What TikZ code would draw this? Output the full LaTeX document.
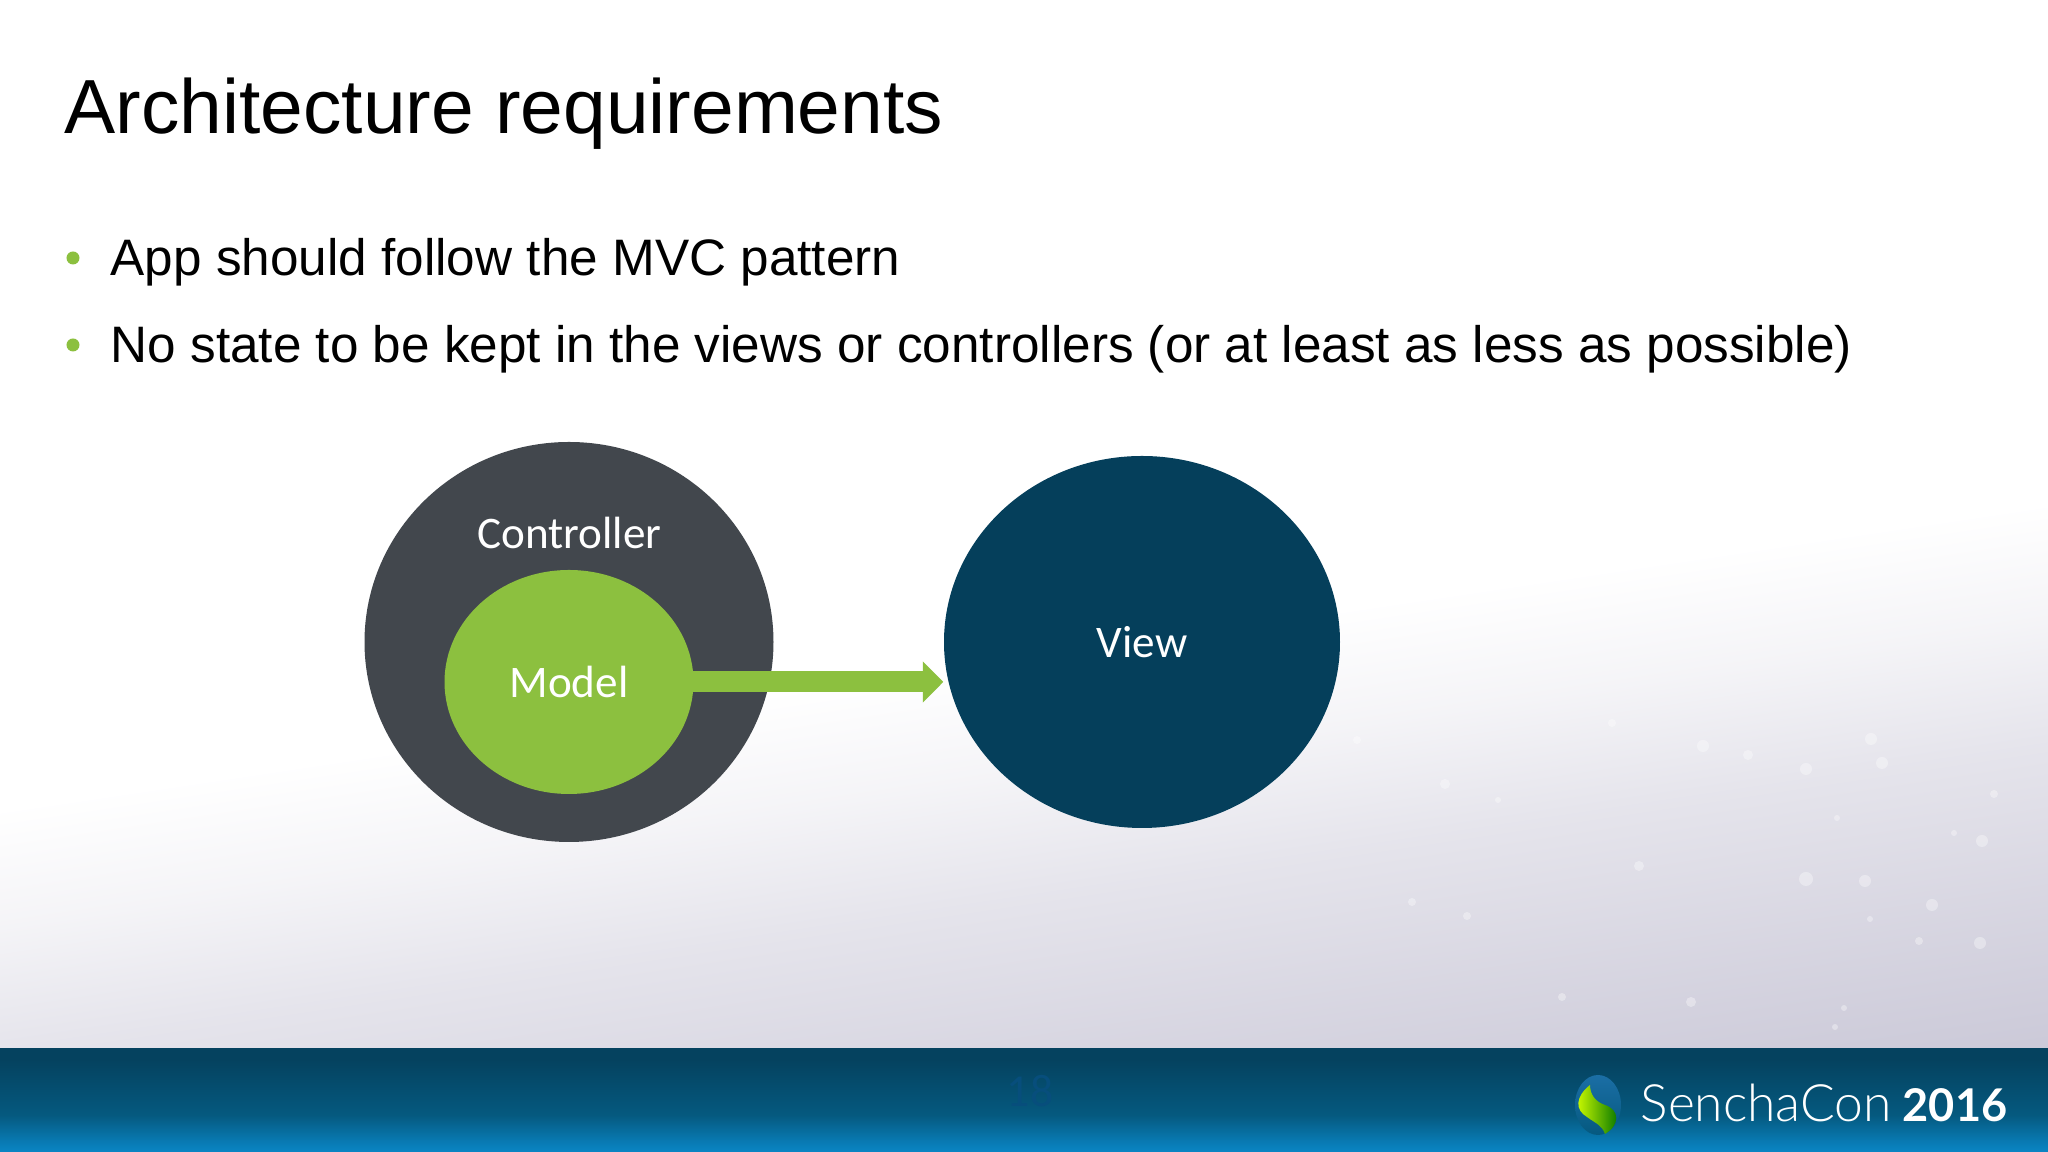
\documentclass[tikz,border=0pt]{standalone}
\usepackage{fontspec}
\setmainfont{Liberation Sans}
\newfontfamily\calibrifont{Carlito}
\newfontfamily\senchafont{Lato Light}
\newfontfamily\senchabold{Lato}[BoldFont={Lato Bold}]
\usetikzlibrary{arrows.meta,shapes.geometric}
\definecolor{slatecirc}{HTML}{42474D}
\definecolor{greencirc}{HTML}{8CC03F}
\definecolor{navycirc}{HTML}{053F5B}
\definecolor{bandtop}{HTML}{05425F}
\definecolor{bandmid}{HTML}{05597F}
\definecolor{bandlow}{HTML}{0A85C4}
\definecolor{haze}{HTML}{CBC9D8}
\definecolor{pagecol}{HTML}{074E7C}
\definecolor{logoblue}{HTML}{1B6EA5}
\pgfdeclareverticalshading{bandshade}{100bp}{color(0bp)=(bandlow); color(25bp)=(bandlow); color(31bp)=(bandlow!70!bandmid); color(43bp)=(bandmid); color(70bp)=(bandtop); color(100bp)=(bandtop)}
\pgfdeclareverticalshading{hazeshade}{100bp}{color(0bp)=(haze); color(32bp)=(haze); color(39.5bp)=(haze!75!white); color(46.5bp)=(haze!50!white); color(52.5bp)=(haze!20!white); color(58bp)=(white); color(100bp)=(white)}
\tikzset{
	bubble/.style={ellipse,minimum width=#1,inner sep=0pt,text=white,font=\calibrifont\fontsize{12.85}{15}\selectfont},
	bullettext/.style={anchor=base west,inner sep=0pt,font=\fontsize{14.59}{17}\selectfont},
	bulletdot/.style={fill=greencirc,draw=none},
	sparkle/.style={fill=white,opacity=0.35,draw=none}
}
\begin{document}
\begin{tikzpicture}
	%%%%% BACKGROUND %%%%%
	\useasboundingbox (0, 0) rectangle (20.48, 11.52);
	\fill[white] (0, 0) rectangle (20.48, 11.52);
	\begin{scope}
		\clip (0, 1.0) rectangle (20.48, 11.52);
		\shade[shading=hazeshade, transform canvas={rotate around={8.5:(10.24, 1.0)}}] (-4, -2) rectangle (24, 8.5);
	\end{scope}
	\foreach \px/\py/\pr in {18.71/4.13/0.06, 18.82/3.89/0.06, 17.03/4.06/0.06, 17.48/3.97/0.05, 18.06/3.83/0.06, 16.12/4.29/0.04, 19.94/3.58/0.04, 18.37/3.34/0.03, 19.54/3.19/0.03, 19.82/3.11/0.06, 16.39/2.86/0.05, 18.06/2.73/0.07, 18.65/2.71/0.06, 19.32/2.47/0.06, 18.7/2.33/0.03, 19.19/2.11/0.04, 19.8/2.09/0.06, 14.45/3.68/0.05, 13.57/4.12/0.04, 14.98/3.52/0.03, 14.12/2.5/0.04, 14.67/2.36/0.04, 15.62/1.55/0.04, 16.91/1.5/0.05, 18.44/1.44/0.03, 18.35/1.25/0.03}{
		\fill[sparkle] (\px, \py) circle (\pr);
	}
	%%%%% BAND %%%%%
	\shade[shading=bandshade] (0, 0) rectangle (20.48, 1.03);
	\node[text=pagecol, inner sep=0pt, font=\calibrifont\fontsize{13}{15}\selectfont] (pagenum) at (10.3, 0.61) {18};
	%%%%% TEXT %%%%%
	\node[anchor=base west, inner sep=0pt, font=\fontsize{21.83}{26}\selectfont] (title) at (0.64, 10.18) {Architecture requirements};
	\fill[bulletdot] (0.73, 8.94) circle (0.065);
	\node[bullettext] (first) at (1.10, 8.76) {App should follow the MVC pattern};
	\fill[bulletdot] (0.73, 8.07) circle (0.065);
	\node[bullettext] (second) at (1.10, 7.89) {No state to be kept in the views or controllers (or at least as less as possible)};
	%%%%% CIRCLES %%%%%
	\node[bubble=4.09cm, minimum height=4.0cm, fill=slatecirc] (controller) at (5.69, 5.1) {};
	\node[text=white, inner sep=0pt, font=\calibrifont\fontsize{12.85}{15}\selectfont] (controllertext) at (5.695, 6.19) {Controller};
	\node[bubble=2.49cm, minimum height=2.24cm, fill=greencirc] (model) at (5.69, 4.7) {Model};
	\node[bubble=3.96cm, minimum height=3.72cm, fill=navycirc] (view) at (11.42, 5.1) {View};
	%%%%% ARROW %%%%%
	\draw[greencirc, line width=0.21cm, shorten <=-0.03cm, yshift=0.01cm, -{Triangle[width=0.4cm,length=0.205cm]}] (model.east) -- (model.east -| view.west);
	%%%%% LOGO %%%%%
	\shade[top color=logoblue, bottom color=bandmid] (15.98, 0.47) ellipse (0.23 and 0.30);
	\shade[left color=lime!70!yellow, right color=green!45!black] (15.9, 0.67) .. controls (15.75, 0.55) and (15.75, 0.42) .. (15.87, 0.35) .. controls (15.95, 0.29) and (16.02, 0.27) .. (16.05, 0.18) .. controls (16.2, 0.27) and (16.2, 0.42) .. (16.05, 0.47) .. controls (15.96, 0.5) and (15.9, 0.57) .. (15.9, 0.67) -- cycle;
	\node[anchor=base west, inner sep=0pt, text=white, font=\senchafont\fontsize{14.66}{17}\selectfont] (sencha) at (16.4, 0.3) {SenchaCon};
	\node[anchor=base west, inner sep=0pt, text=white, font=\senchabold\bfseries\fontsize{12.84}{15}\selectfont] (year) at (19.02, 0.3) {2016};
\end{tikzpicture}
\end{document}
